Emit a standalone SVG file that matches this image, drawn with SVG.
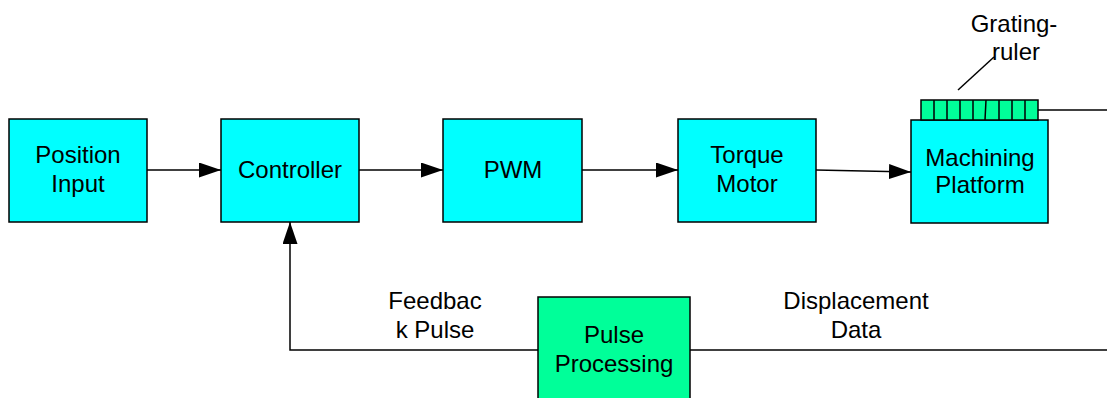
<svg xmlns="http://www.w3.org/2000/svg" width="1107" height="398" viewBox="0 0 1107 398">
<defs>
<style>
.box{fill:#00FFFF;stroke:#000;stroke-width:1.5}
.gbox{fill:#00FF99;stroke:#000;stroke-width:1.5}
.t{font-family:"Liberation Sans",Arial,sans-serif;font-size:24px;fill:#000;text-anchor:middle}
.c{fill:none;stroke:#000;stroke-width:1.5}
</style>
<marker id="ah" viewBox="0 0 22 15" refX="22" refY="7.5" markerWidth="22" markerHeight="15" markerUnits="userSpaceOnUse" orient="auto">
<path d="M0,0 L22,7.5 L0,15 Z" fill="#000"/>
</marker>
</defs>
<rect width="1107" height="398" fill="#fff"/>
<g id="connectors">
<line class="c" x1="147" y1="170" x2="221" y2="170" marker-end="url(#ah)"/>
<line class="c" x1="359" y1="170" x2="443" y2="170" marker-end="url(#ah)"/>
<line class="c" x1="582" y1="170" x2="678" y2="170" marker-end="url(#ah)"/>
<line class="c" x1="816" y1="170" x2="911" y2="172" marker-end="url(#ah)"/>
<line class="c" x1="1038" y1="110" x2="1107" y2="110"/>
<line class="c" x1="690" y1="350" x2="1107" y2="350"/>
<polyline class="c" points="538,350 290,350 290,222" marker-end="url(#ah)"/>
<line class="c" x1="958" y1="90" x2="994" y2="57"/>
</g>
<g id="position-input">
<rect class="box" x="9" y="119" width="138" height="103"/>
<text class="t" x="78" y="163">Position</text>
<text class="t" x="78" y="192">Input</text>
</g>
<g id="controller">
<rect class="box" x="221" y="119" width="138" height="103"/>
<text class="t" x="290" y="178">Controller</text>
</g>
<g id="pwm">
<rect class="box" x="443" y="119" width="139" height="103"/>
<text class="t" x="513" y="178">PWM</text>
</g>
<g id="torque-motor">
<rect class="box" x="678" y="119" width="138" height="103"/>
<text class="t" x="747" y="163">Torque</text>
<text class="t" x="747" y="192">Motor</text>
</g>
<g id="machining-platform">
<rect class="box" x="911" y="120" width="137" height="103"/>
<text class="t" x="980" y="166">Machining</text>
<text class="t" x="980" y="193">Platform</text>
</g>
<g id="grating-ruler">
<rect class="gbox" x="921" y="100" width="117" height="20"/>
<path class="c" d="M934,100V120M947,100V120M960,100V120M973,100V120M986,100L985,120M999,100V120M1012,100V120M1025,100V120"/>
<text class="t" x="1014" y="32">Grating-</text>
<text class="t" x="1016" y="60">ruler</text>
</g>
<g id="pulse-processing">
<rect class="gbox" x="538" y="297" width="152" height="110"/>
<text class="t" x="614" y="343">Pulse</text>
<text class="t" x="614" y="372">Processing</text>
</g>
<g id="labels">
<text class="t" x="435" y="309">Feedbac</text>
<text class="t" x="435" y="338">k Pulse</text>
<text class="t" x="856" y="309">Displacement</text>
<text class="t" x="856" y="338">Data</text>
</g>
</svg>
